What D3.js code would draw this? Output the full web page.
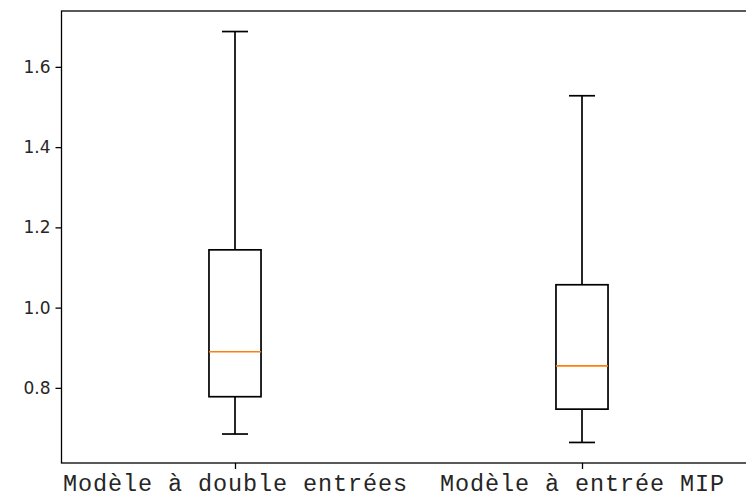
<!DOCTYPE html>
<html>
<head>
<meta charset="utf-8">
<script src="https://cdn.jsdelivr.net/npm/d3@7"></script>
<style>
  html, body { margin: 0; padding: 0; background: #fff; overflow: hidden; }
  svg { display: block; }
</style>
</head>
<body>
<svg id="chart" width="746" height="500"></svg>
<script>
// ---- data ----
const categories = ["Modèle à double entrées", "Modèle à entrée MIP"];
const whiskerLow  = [0.685, 0.664];
const q1Values    = [0.778, 0.747];
const medians     = [0.890, 0.855];
const q3Values    = [1.144, 1.057];
const whiskerHigh = [1.688, 1.528];
const yTicks = [0.8, 1.0, 1.2, 1.4, 1.6];

// ---- layout ----
const plotLeft = 61.5, plotTop = 11, plotBottom = 463;
const unitPx = 347; // pixels per category step
const svg = d3.select("#chart");

const lo = d3.min(whiskerLow), hi = d3.max(whiskerHigh);
const pad = (hi - lo) * 0.05;
const y = d3.scaleLinear().domain([lo - pad, hi + pad]).range([plotBottom, plotTop]);
const x = d3.scaleLinear().domain([0.5, 2.5]).range([plotLeft, plotLeft + 2 * unitPx]);

const boxHalf = 0.075, capHalf = 0.0375;
const data = categories.map((c, i) => ({
  pos: i + 1, c,
  wl: whiskerLow[i], q1: q1Values[i], med: medians[i], q3: q3Values[i], wh: whiskerHigh[i]
}));

const g = svg.append("g");
const lw = 1.7;
data.forEach(d => {
  const cx = x(d.pos);
  // whiskers
  g.append("line").attr("x1", cx).attr("x2", cx).attr("y1", y(d.q3)).attr("y2", y(d.wh))
    .attr("stroke", "#000").attr("stroke-width", lw);
  g.append("line").attr("x1", cx).attr("x2", cx).attr("y1", y(d.q1)).attr("y2", y(d.wl))
    .attr("stroke", "#000").attr("stroke-width", lw);
  // caps
  [d.wl, d.wh].forEach(v => {
    g.append("line").attr("x1", x(d.pos - capHalf)).attr("x2", x(d.pos + capHalf))
      .attr("y1", y(v)).attr("y2", y(v)).attr("stroke", "#000").attr("stroke-width", lw);
  });
  // box
  g.append("rect").attr("x", x(d.pos - boxHalf)).attr("width", x(d.pos + boxHalf) - x(d.pos - boxHalf))
    .attr("y", y(d.q3)).attr("height", y(d.q1) - y(d.q3))
    .attr("fill", "none").attr("stroke", "#000").attr("stroke-width", lw);
  // median
  g.append("line").attr("x1", x(d.pos - boxHalf)).attr("x2", x(d.pos + boxHalf))
    .attr("y1", y(d.med)).attr("y2", y(d.med))
    .attr("stroke", "#ff7f0e").attr("stroke-width", lw);
});

// axes
const yAxis = svg.append("g").attr("transform", `translate(${plotLeft},0)`)
  .call(d3.axisLeft(y).tickValues(yTicks).tickFormat(d3.format(".1f")).tickSize(6).tickPadding(5));
yAxis.select(".domain").remove();
yAxis.selectAll("line").attr("stroke", "#000").attr("stroke-width", 1.3);
yAxis.selectAll("text").attr("font-family", "DejaVu Sans").attr("font-size", 17).attr("fill", "#262626");

const xAxis = svg.append("g").attr("transform", `translate(0,${plotBottom})`)
  .call(d3.axisBottom(x).tickValues([1, 2]).tickFormat(d => categories[d - 1]).tickSize(6).tickPadding(5));
xAxis.select(".domain").remove();
xAxis.selectAll("line").attr("stroke", "#000").attr("stroke-width", 1.3);
xAxis.selectAll("text").attr("font-family", "Liberation Mono").attr("font-size", 23.5)
  .attr("letter-spacing", 0.9).attr("fill", "#262626");

// frame
svg.append("rect").attr("x", plotLeft).attr("y", plotTop)
  .attr("width", 2 * unitPx).attr("height", plotBottom - plotTop)
  .attr("fill", "none").attr("stroke", "#000").attr("stroke-width", 1.3);
</script>
</body>
</html>
